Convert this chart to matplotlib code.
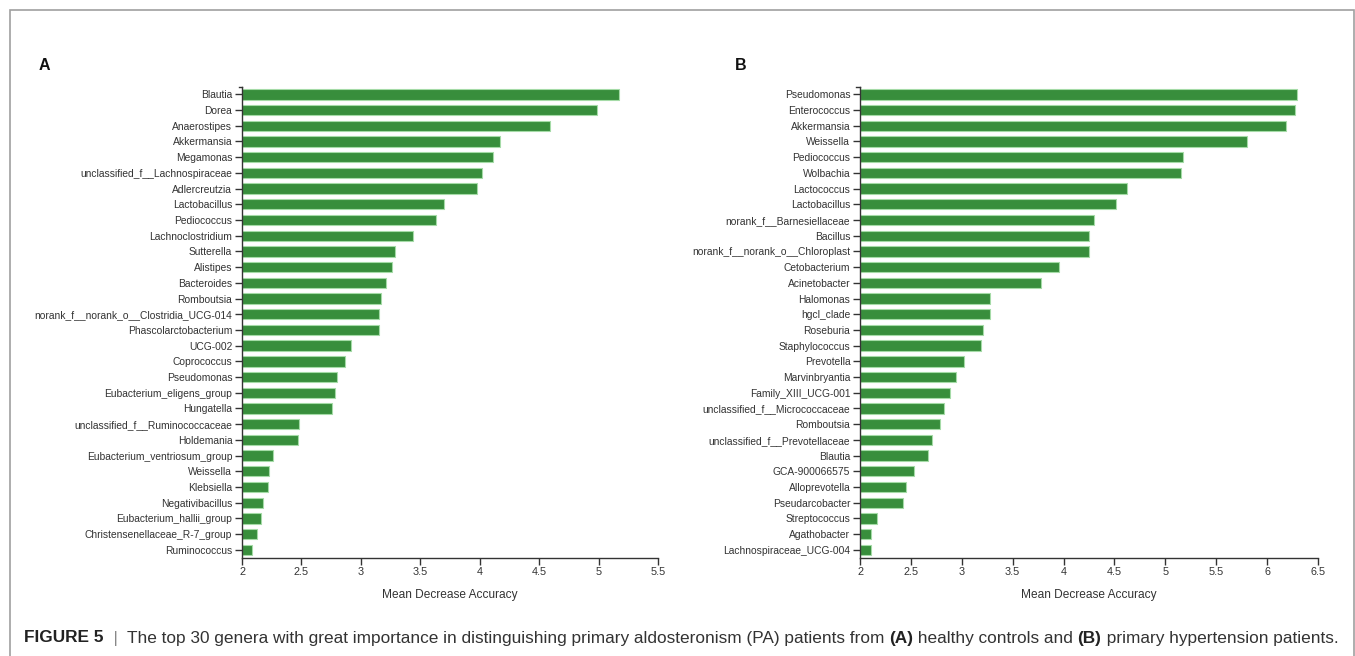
import matplotlib
matplotlib.use("Agg")
import matplotlib.pyplot as plt
from matplotlib.patches import Rectangle

plt.rcParams['font.family'] = ['Liberation Sans', 'DejaVu Sans']

# Panel A: PA vs healthy controls
genera_a = [
    "Blautia", "Dorea", "Anaerostipes", "Akkermansia", "Megamonas",
    "unclassified_f__Lachnospiraceae", "Adlercreutzia", "Lactobacillus",
    "Pediococcus", "Lachnoclostridium", "Sutterella", "Alistipes",
    "Bacteroides", "Romboutsia", "norank_f__norank_o__Clostridia_UCG-014",
    "Phascolarctobacterium", "UCG-002", "Coprococcus", "Pseudomonas",
    "Eubacterium_eligens_group", "Hungatella",
    "unclassified_f__Ruminococcaceae", "Holdemania",
    "Eubacterium_ventriosum_group", "Weissella", "Klebsiella",
    "Negativibacillus", "Eubacterium_hallii_group",
    "Christensenellaceae_R-7_group", "Ruminococcus",
]
mda_a = [
    5.17, 4.99, 4.59, 4.17, 4.11, 4.02, 3.98, 3.70, 3.63, 3.44,
    3.29, 3.26, 3.21, 3.17, 3.15, 3.15, 2.92, 2.87, 2.80, 2.78,
    2.76, 2.48, 2.47, 2.26, 2.23, 2.22, 2.18, 2.16, 2.13, 2.08,
]
ticks_a = [2, 2.5, 3, 3.5, 4, 4.5, 5, 5.5]

# Panel B: PA vs primary hypertension
genera_b = [
    "Pseudomonas", "Enterococcus", "Akkermansia", "Weissella",
    "Pediococcus", "Wolbachia", "Lactococcus", "Lactobacillus",
    "norank_f__Barnesiellaceae", "Bacillus", "norank_f__norank_o__Chloroplast",
    "Cetobacterium", "Acinetobacter", "Halomonas", "hgcl_clade", "Roseburia",
    "Staphylococcus", "Prevotella", "Marvinbryantia", "Family_XIII_UCG-001",
    "unclassified_f__Micrococcaceae", "Romboutsia",
    "unclassified_f__Prevotellaceae", "Blautia", "GCA-900066575",
    "Alloprevotella", "Pseudarcobacter", "Streptococcus", "Agathobacter",
    "Lachnospiraceae_UCG-004",
]
mda_b = [
    6.29, 6.27, 6.19, 5.80, 5.17, 5.15, 4.62, 4.52, 4.30, 4.25,
    4.25, 3.96, 3.78, 3.28, 3.28, 3.21, 3.19, 3.02, 2.94, 2.88,
    2.83, 2.79, 2.71, 2.67, 2.53, 2.45, 2.42, 2.17, 2.11, 2.11,
]
ticks_b = [2, 2.5, 3, 3.5, 4, 4.5, 5, 5.5, 6, 6.5]

BAR = "#388e3c"
EDGE = "#a5dba7"
INK = "#333333"

fig = plt.figure(figsize=(13.55, 6.56), dpi=100)

# thin grey frame around the figure body
fig.patches.append(Rectangle((9.5 / 1355, -0.05), (1354 - 9.5) / 1355, 1.05 - 10 / 656,
                             transform=fig.transFigure, fill=False,
                             edgecolor="#a0a0a0", linewidth=1.2))


def draw_panel(rect, names, values, ticks, letter, letter_x):
    ax = fig.add_axes(rect)
    y = list(range(len(names)))
    base = ticks[0]
    ax.barh(y, [v - base for v in values], left=base, height=0.66,
            color=BAR, edgecolor=EDGE, linewidth=0.8)
    ax.set_ylim(len(names) - 0.5, -0.5)
    ax.set_xlim(ticks[0], ticks[-1])
    ax.set_yticks(y)
    ax.set_yticklabels(names)
    ax.set_xticks(ticks)
    ax.set_xticklabels([f"{t:g}" for t in ticks])
    for side in ("top", "right"):
        ax.spines[side].set_visible(False)
    for side in ("left", "bottom"):
        ax.spines[side].set_color(INK)
        ax.spines[side].set_linewidth(1.0)
    ax.tick_params(axis="y", length=5, width=1, color=INK, pad=2,
                   labelsize=7.4, labelcolor=INK)
    ax.tick_params(axis="x", length=5, width=1, color=INK, pad=2,
                   labelsize=7.8, labelcolor=INK)
    # small outer tick at the top of the category axis
    ax.plot([0, -0.008], [1, 1], transform=ax.transAxes, color=INK,
            linewidth=1.0, clip_on=False)
    ax.set_xlabel("Mean Decrease Accuracy", fontsize=8.6, color=INK, labelpad=8)
    fig.text(letter_x, 1 - 66 / 656, letter, fontsize=11.5, fontweight="bold",
             ha="left", va="center", color="#111111")
    return ax


top = 1 - 86.5 / 656
bottom = 1 - 557.7 / 656
draw_panel([242 / 1355, bottom, (658 - 242) / 1355, top - bottom],
           genera_a, mda_a, ticks_a, "A", 39 / 1355)
draw_panel([860 / 1355, bottom, (1318 - 860) / 1355, top - bottom],
           genera_b, mda_b, ticks_b, "B", 735 / 1355)

# caption, laid out piece by piece
caption = [
    ("FIGURE 5", "bold", "#222222"),
    ("  |  ", "normal", "#888888"),
    ("The top 30 genera with great importance in distinguishing primary aldosteronism (PA) patients from ", "normal", "#333333"),
    ("(A)", "bold", "#222222"),
    (" healthy controls and ", "normal", "#333333"),
    ("(B)", "bold", "#222222"),
    (" primary hypertension patients.", "normal", "#333333"),
]
renderer = fig.canvas.get_renderer()
x = 24
cap_y = 1 - 638 / 656
for text, weight, color in caption:
    t = fig.text(x / 1355, cap_y, text, fontsize=12.45, fontweight=weight,
                 color=color, ha="left", va="center")
    x += t.get_window_extent(renderer).width

fig.savefig("out.png", dpi=100)
